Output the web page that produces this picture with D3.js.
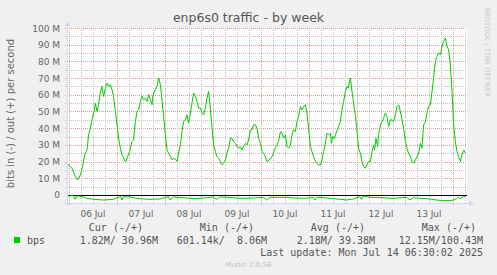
<!DOCTYPE html>
<html>
<head>
<meta charset="utf-8">
<script src="https://cdn.jsdelivr.net/npm/d3@7"></script>
<style>
  body { margin: 0; background: #F0F0F0; }
  svg { display: block; }
</style>
</head>
<body>
<script>
// out (+) traffic, Mbit/s, 30 min averages; hours since start of graph
const outHours = [0,2.5,4.2,5.3,6.7,7.8,8.8,10,10.8,11.7,12.5,13.7,14.2,15,15.8,16.7,17.5,18.3,19.2,20,20.8,21.7,22.5,23.3,24.2,25,25.8,26.7,27.5,28.7,29.5,30.3,31.3,32.5,33.3,34.2,35,35.8,36.7,37.5,38.3,39.2,40,40.8,41.7,42.5,43,44.2,45,45.8,46.7,47.5,48.3,49.2,50,50.8,51.7,52.5,53.3,54.2,55,55.8,56.7,57.5,58.3,59.2,60,60.8,61.7,62.5,63.3,64.2,65,65.8,66.7,67.5,68.3,69.2,70,70.8,71.7,72.5,73.3,74.2,75,75.8,76.7,77.5,78.3,79.2,80,80.8,81.7,82.5,83.3,84.2,85,85.8,86.7,87.5,88.3,89.2,90,90.8,91.7,92.5,93.3,94.2,95,95.8,96.7,97.5,98.8,100,101.2,102.5,103.8,105,105.8,106.7,107.5,108.3,109.2,110,110.8,111.7,112.5,113.3,114.2,115,115.8,116.7,117.5,118.3,119.2,120,120.8,121.7,122.5,123.3,124.2,125,125.8,126.7,127.5,128.3,129.2,130,130.8,131.7,132.2,132.8,133.8,134.5,135.5,136.7,137.5,138.3,139.2,140,140.5,141.2,141.7,142.5,143.3,144.2,145,145.8,146.7,147.5,148.3,149.2,150,150.8,151.7,152.5,153.3,153.8,154.5,155.3,155.8,156.7,157.5,158.3,159.2,160,160.8,161.7,162.5,163.3,164.2,165,165.8,166.7,167.5,168.3,169.2,170,170.8,171.7,172.5,173.3,174.2,175,175.8,176.7,177.5,178.3,179.2,180,180.8,181.7,182.5,183.3,184.2,185,185.8,186.7,187.5,188.3,189.2,190,190.8,191.7,192.5,193.3,194.2,195,195.8,196.7,197.5,198.3,199.2];
const outMbps = [19,16,11,9,12,17,24,27,36,40,45,51,55,50,54,62,65,59,64,67,65,66,63,59,50,42,34,28,24,21,20,23,26,32,33,44,50,51,56,59,57,58,56,60,57,54,60,63,65,70,66,57,47,36,27,25,23,21,22,21.5,20,25,30,38,44,45,48,43,49,55,61,59,56,52,52,49,48,52,58,62,52,40,30,26,23,22,20,18,19,21,25,28,34,34,32,31,29,28,29,27,29,31,30,33,39,39,42,42,40,34,31,26,24,20,21,23,27,30,32,38,37,34,36,29,28,30,36,39,38,44,47,53,51,53,54,49,40,29,26,23,20,19,18,18,21,26,31,37,36,37,31,35,34,37,40,44,51,56,62,65,64,67,70,62,55,48,38,28,25,20,17,16,18,20,20,26,30,27,34,29,36,42,44,46,49,47,41,45,45,44,48,53,54,50,45,40,32,28,25,23,20,19,21,23,25,31,28,42,44,49,53,54,62,70,80,83,85,84,89,92,94,89,87,78,62,42,32,26,23,20,24,27,25];

// in (-) traffic, Mbit/s (drawn below zero)
const inHours = [0,3.2,4,4.8,7.3,9.8,13.2,18.2,23.2,25.7,27,27.5,28.2,31.5,34.8,38.2,41.5,46.5,49.5,50.7,51.5,53.2,59.8,64.8,69.8,73.2,74.8,76.5,79.8,86.5,93.2,98.2,99.8,101.5,109.8,113.2,119.8,123.2,124,124.8,126.5,133.2,139.8,143.2,146.5,147.3,148.2,151.5,156.5,163.2,169.8,171.5,173.2,174.8,179.8,184.8,188.2,191.5,193.2,194.8,195.7,196.5,198.2,199.2];
const inMbps = [0.6,0.4,2.6,0.6,0.8,2,2.6,3,2.6,1.4,1,3,1,1.2,2,2.4,2.6,2.4,1.4,1,3,1.2,1.8,2.2,1.6,1.2,2.6,1.2,1.4,2,1.8,1.4,3,1.4,1.4,1.8,2,1.4,3,1.4,1.4,2.2,3,2.4,1,2.6,0.6,1.4,1.6,2,1.4,3,1.6,1.8,2.2,3,3.4,3.4,3,2.2,1.4,2.2,1,1];

const yTicks = [0,10,20,30,40,50,60,70,80,90,100];
const yTickLabels = ["0","10 M","20 M","30 M","40 M","50 M","60 M","70 M","80 M","90 M","100 M"];
const dayLabels = ["06 Jul","07 Jul","08 Jul","09 Jul","10 Jul","11 Jul","12 Jul","13 Jul"];

const legendHeads = ["Cur (-/+)","Min (-/+)","Avg (-/+)","Max (-/+)"];
const legendValues = ["1.82M/ 30.96M","601.14k/  8.06M","2.18M/ 39.38M","12.15M/100.43M"];

const width = 497, height = 275;
const margin = {top: 28, right: 30, bottom: 72, left: 67};

const start = Date.UTC(2025, 6, 5, 23);
const end = start + 720000 * 1000;
const toDate = h => new Date(start + h * 3600e3);

const x = d3.scaleUtc()
  .domain([new Date(start), new Date(end)])
  .range([margin.left, width - margin.right]);

const y = d3.scaleLinear()
  .domain([-4.8, 100])
  .range([height - margin.bottom, margin.top]);

const svg = d3.select("body").append("svg")
  .attr("width", width)
  .attr("height", height)
  .style("font-family", "DejaVu Sans, sans-serif");

svg.append("rect")
  .attr("width", width).attr("height", height)
  .attr("fill", "#F0F0F0");

svg.append("rect")
  .attr("x", margin.left).attr("y", margin.top)
  .attr("width", width - margin.left - margin.right)
  .attr("height", height - margin.top - margin.bottom)
  .attr("fill", "#FFFFFF");

const minorColor = "#C0C0C0", majorColor = "#EA9494", axisColor = "#CFD6F8";
const x0 = margin.left, x1 = width - margin.right;
const yTop = margin.top, yBot = height - margin.bottom;

// horizontal grid (5M minor, 10M major)
const hGrid = d3.range(5, 101, 5);
svg.append("g")
  .selectAll("line")
  .data(hGrid)
  .enter().append("line")
    .attr("x1", x0 - (2)).attr("x2", x1)
    .attr("y1", d => Math.round(y(d)) + 0.5)
    .attr("y2", d => Math.round(y(d)) + 0.5)
    .attr("stroke", d => d % 10 === 0 ? majorColor : minorColor)
    .attr("stroke-dasharray", "1,1");

// vertical grid (6h minor, midnight major)
const vGrid = d3.utcHour.every(6).range(new Date(start), new Date(end));
svg.append("g")
  .selectAll("line")
  .data(vGrid)
  .enter().append("line")
    .attr("x1", d => Math.round(x(d)) + 0.5)
    .attr("x2", d => Math.round(x(d)) + 0.5)
    .attr("y1", yTop)
    .attr("y2", d => d.getUTCHours() === 0 ? yBot + 3 : yBot)
    .attr("stroke", d => d.getUTCHours() === 0 ? majorColor : minorColor)
    .attr("stroke-dasharray", "1,1");

// zero line
svg.append("line")
  .attr("x1", x0).attr("x2", x1)
  .attr("y1", Math.round(y(0)) + 0.5).attr("y2", Math.round(y(0)) + 0.5)
  .attr("stroke", "#000");

const line = d3.line()
  .x(d => x(toDate(d[0])))
  .y(d => y(d[1]));

svg.append("path")
  .datum(inHours.map((h, i) => [h, -inMbps[i]]))
  .attr("fill", "none")
  .attr("stroke", "#00CC00")
  .attr("d", line);

svg.append("path")
  .datum(outHours.map((h, i) => [h, outMbps[i]]))
  .attr("fill", "none")
  .attr("stroke", "#00CC00")
  .attr("d", line);

// axes
svg.append("line")
  .attr("x1", x0 - 3).attr("x2", x1 + 2)
  .attr("y1", yBot + 0.5).attr("y2", yBot + 0.5)
  .attr("stroke", axisColor);
svg.append("line")
  .attr("x1", x0 + 0.5).attr("x2", x0 + 0.5)
  .attr("y1", yBot + 3).attr("y2", yTop - 2)
  .attr("stroke", axisColor);
svg.append("path")
  .attr("d", `M${x1 + 2},${yBot - 2.5}L${x1 + 7},${yBot + 0.5}L${x1 + 2},${yBot + 3.5}Z`)
  .attr("fill", axisColor);
svg.append("path")
  .attr("d", `M${x0 - 2.5},${yTop - 2}L${x0 + 0.5},${yTop - 7}L${x0 + 3.5},${yTop - 2}Z`)
  .attr("fill", axisColor);

// tick labels
svg.append("g")
    .attr("fill", "#666")
    .attr("text-anchor", "end")
    .style("font-size", "9px")
  .selectAll("text")
  .data(yTicks)
  .enter().append("text")
    .attr("x", x0 - 7)
    .attr("y", d => y(d) + 3.5)
    .text((d, i) => yTickLabels[i]);

svg.append("g")
    .attr("fill", "#666")
    .attr("text-anchor", "middle")
    .style("font-size", "9px")
  .selectAll("text")
  .data(dayLabels)
  .enter().append("text")
    .attr("x", (d, i) => x(new Date(Date.UTC(2025, 6, 6 + i, 12))))
    .attr("y", yBot + 14)
    .text(d => d);

svg.append("text")
  .attr("x", width / 2)
  .attr("y", 22)
  .attr("text-anchor", "middle")
  .attr("fill", "#555")
  .style("font-size", "12.5px")
  .text("enp6s0 traffic - by week");

svg.append("text")
  .attr("transform", `translate(14,${(yTop + yBot) / 2 - 2}) rotate(-90)`)
  .attr("text-anchor", "middle")
  .attr("fill", "#666")
  .style("font-size", "10px")
  .text("bits in (-) / out (+) per second");

svg.append("text")
  .attr("transform", "translate(485,52) rotate(90)")
  .attr("text-anchor", "middle")
  .attr("fill", "#C8C8C8")
  .style("font-size", "7px")
  .text("RRDTOOL / TOBI OETIKER");

// legend
const legend = svg.append("g")
  .attr("fill", "#555")
  .style("font-family", "DejaVu Sans Mono, monospace")
  .style("font-size", "10px");

const headRight = [143, 254, 365, 476];
const valueRight = [158, 267, 375, 483];

legend.selectAll(".head")
  .data(legendHeads)
  .enter().append("text")
    .attr("class", "head")
    .attr("x", (d, i) => headRight[i])
    .attr("y", 231)
    .attr("text-anchor", "end")
    .style("white-space", "pre")
    .text(d => d);

legend.selectAll(".val")
  .data(legendValues)
  .enter().append("text")
    .attr("class", "val")
    .attr("x", (d, i) => valueRight[i])
    .attr("y", 244)
    .attr("text-anchor", "end")
    .style("white-space", "pre")
    .text(d => d);

legend.append("rect")
  .attr("x", 14).attr("y", 237)
  .attr("width", 6).attr("height", 6)
  .attr("fill", "#00CC00");

legend.append("text")
  .attr("x", 27).attr("y", 244)
  .text("bps");

legend.append("text")
  .attr("x", 483).attr("y", 256)
  .attr("text-anchor", "end")
  .text("Last update: Mon Jul 14 06:30:02 2025");

svg.append("text")
  .attr("x", width / 2)
  .attr("y", 267)
  .attr("text-anchor", "middle")
  .attr("fill", "#C0C0C0")
  .style("font-size", "7px")
  .text("Munin 2.0.56");
</script>
</body>
</html>
